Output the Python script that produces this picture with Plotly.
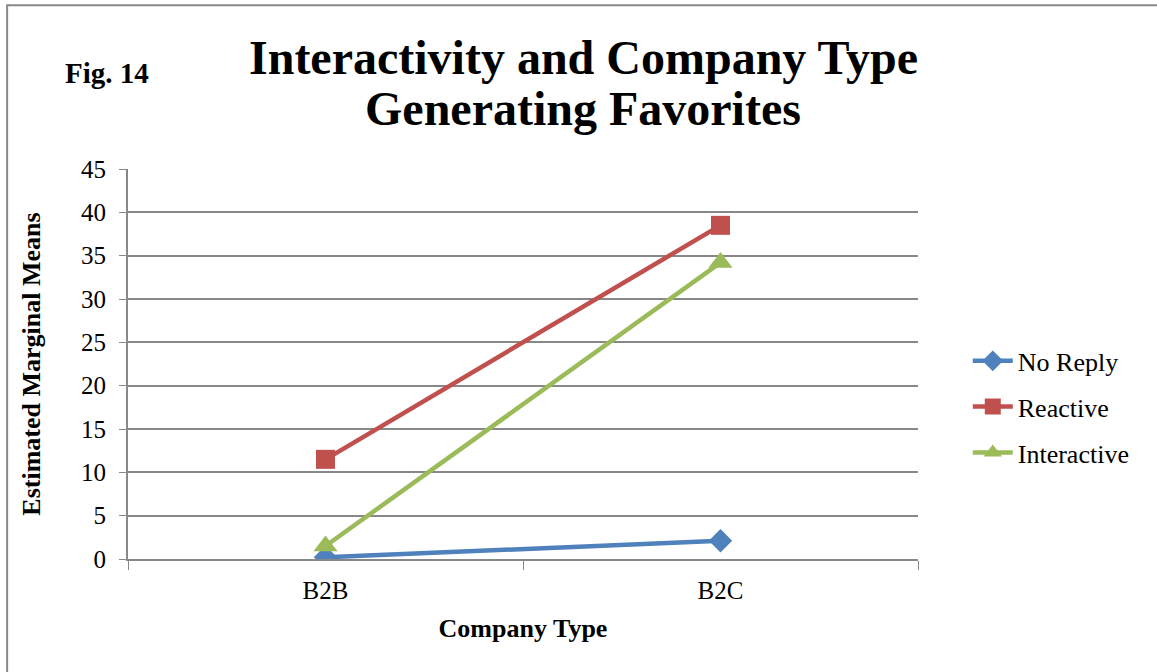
# Interactivity and Company Type - Generating Favorites (Fig. 14)
import plotly.graph_objects as go

# Data
company_types = ["B2B", "B2C"]
no_reply = [0.2, 2.1]
reactive = [11.5, 38.5]
interactive = [1.5, 34.2]

series_names = ["No Reply", "Reactive", "Interactive"]
series_values = [no_reply, reactive, interactive]
series_colors = ["#4F81BD", "#C0504D", "#9BBB59"]
series_symbols = ["diamond", "square", "triangle-up"]
marker_sizes = [18, 19, 21]

serif = "Liberation Serif, Times New Roman, serif"
axis_gray = "#888888"

fig = go.Figure()

# One line trace per interactivity level
for i in range(len(series_names)):
    fig.add_trace(go.Scatter(
        x=company_types,
        y=series_values[i],
        name=series_names[i],
        legendgroup=series_names[i],
        mode="lines+markers",
        line=dict(color=series_colors[i], width=4.5),
        marker=dict(symbol=series_symbols[i], size=marker_sizes[i], color=series_colors[i]),
    ))

fig.update_layout(
    width=1157,
    height=672,
    paper_bgcolor="white",
    plot_bgcolor="white",
    margin=dict(l=128, r=239, t=169, b=113),
    font=dict(family=serif, color="black", size=26),
    showlegend=True,
    legend=dict(
        x=1.063, y=0.39, xanchor="left", yanchor="middle",
        font=dict(size=26),
        tracegroupgap=9,
        itemwidth=40,
    ),
    xaxis=dict(
        type="category",
        range=[-0.5, 1.5],
        tickson="boundaries",
        ticks="outside",
        ticklen=9,
        tickcolor=axis_gray,
        showline=True,
        linecolor=axis_gray,
        linewidth=2,
        showgrid=False,
        automargin=False,
        ticklabelstandoff=8,
        tickfont=dict(size=25),
        title=dict(text="<b>Company Type</b>", font=dict(size=26), standoff=16),
    ),
    yaxis=dict(
        range=[0, 45],
        dtick=5,
        ticks="outside",
        ticklen=7,
        tickcolor=axis_gray,
        showline=True,
        linecolor=axis_gray,
        linewidth=2,
        showgrid=True,
        gridcolor=axis_gray,
        gridwidth=1.5,
        zeroline=False,
        automargin=False,
        ticklabelstandoff=8,
        tickfont=dict(size=25),
        title=dict(text="<b>Estimated Marginal Means</b>", font=dict(size=26), standoff=33),
    ),
    annotations=[
        dict(
            text="<b>Interactivity and Company Type</b>",
            xref="paper", yref="paper", x=0.576, y=1.287,
            xanchor="center", yanchor="middle", showarrow=False,
            font=dict(size=48, family=serif),
        ),
        dict(
            text="<b>Generating Favorites</b>",
            xref="paper", yref="paper", x=0.576, y=1.156,
            xanchor="center", yanchor="middle", showarrow=False,
            font=dict(size=48, family=serif),
        ),
        dict(
            text="<b>Fig. 14</b>",
            xref="paper", yref="paper", x=-0.082, y=1.246,
            xanchor="left", yanchor="middle", showarrow=False,
            font=dict(size=29, family=serif),
        ),
    ],
    shapes=[
        dict(
            type="rect", xref="paper", yref="paper",
            x0=-0.153, y0=-0.32, x1=1.31, y1=1.42,
            line=dict(color=axis_gray, width=2),
            layer="below",
        ),
    ],
)

fig.write_html(
    "out.html",
    config={"displayModeBar": False},
    post_script="document.body.style.margin='0';",
)
